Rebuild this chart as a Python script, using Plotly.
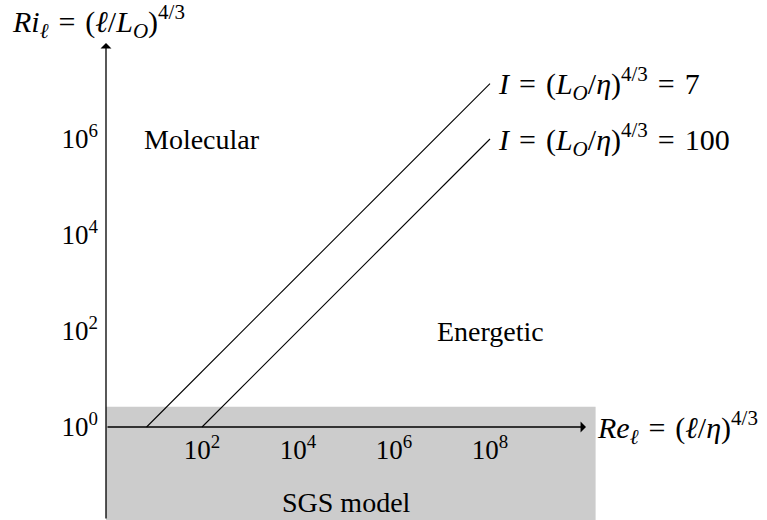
import math
import plotly.graph_objects as go

# Regime diagram: Reynolds number vs Richardson number (log-log)
intensity = [7, 100]                 # I = (L_O/eta)^(4/3) for each boundary line
re_line_end = 1e8                    # Re_l where the boundary lines stop
re_axis_max = 1e10                   # tip of the Re arrow
ri_axis_max = 1e8                    # tip of the Ri arrow
ri_axis_min = 10 ** -1.94            # bottom of the Ri axis
sgs_re = [1, 10 ** 10.2]             # SGS-model band, Re extent
sgs_ri = [10 ** -2.2, 10 ** 0.42]    # SGS-model band, Ri extent
x_ticks = [1e2, 1e4, 1e6, 1e8]
x_tick_text = ["10<sup>2</sup>", "10<sup>4</sup>", "10<sup>6</sup>", "10<sup>8</sup>"]
y_ticks = [1e0, 1e2, 1e4, 1e6]
y_tick_text = ["10<sup>0</sup>", "10<sup>2</sup>", "10<sup>4</sup>", "10<sup>6</sup>"]
regions = ["Molecular", "Energetic", "SGS model"]
region_re = [1e2, 1e8, 1e5]
region_ri = [1e6, 1e2, 10 ** -1.58]

FONT = "Liberation Serif"
FS = 28          # plain text
FS_MATH = 30     # formulas
FS_TICK = 27
W, H = 767, 520
PX_PER_DEC = 48.0
X0_PX, Y0_PX = 106.0, 427.0
EQ = "\u2004=\u2004"

fig = go.Figure()

# boundary lines Ri = Re / I, starting on the Ri = 1 axis
for I in intensity:
    re = [I, re_line_end]
    ri = [r / I for r in re]
    fig.add_trace(go.Scatter(x=re, y=ri, mode="lines",
                             line=dict(color="black", width=1.1),
                             hoverinfo="skip", showlegend=False))

# grey SGS band
fig.add_shape(type="rect", xref="x", yref="y",
              x0=sgs_re[0], x1=sgs_re[1], y0=sgs_ri[0], y1=sgs_ri[1],
              fillcolor="#cccccc", line=dict(width=0), layer="below")

annotations = []
# axis arrows
annotations.append(dict(x=math.log10(re_axis_max), y=0, ax=0, ay=0,
                        xref="x", yref="y", axref="x", ayref="y", text="",
                        showarrow=True, arrowhead=1, arrowsize=1.4,
                        arrowwidth=1.3, arrowcolor="black", standoff=0))
annotations.append(dict(x=0, y=math.log10(ri_axis_max), ax=0,
                        ay=math.log10(ri_axis_min),
                        xref="x", yref="y", axref="x", ayref="y", text="",
                        showarrow=True, arrowhead=1, arrowsize=1.4,
                        arrowwidth=1.3, arrowcolor="black", standoff=0))

math_font = dict(family=FONT, size=FS_MATH, color="black")

# axis titles
annotations.append(dict(x=math.log10(re_axis_max), y=0, xref="x", yref="y",
                        xanchor="left", yanchor="middle", xshift=9,
                        text=f"<i>Re</i><sub><i>ℓ</i></sub>{EQ}(<i>ℓ</i>/<i>η</i>)<sup>4/3</sup>",
                        font=math_font, showarrow=False))
annotations.append(dict(x=-2.0, y=8.45, xref="x", yref="y",
                        xanchor="left", yanchor="middle",
                        text=f"<i>Ri</i><sub><i>ℓ</i></sub>{EQ}(<i>ℓ</i>/<i>L</i><sub><i>O</i></sub>)<sup>4/3</sup>",
                        font=math_font, showarrow=False))

# boundary line labels
for I in intensity:
    annotations.append(dict(x=math.log10(re_line_end),
                            y=math.log10(re_line_end / I),
                            xref="x", yref="y", xanchor="left", yanchor="middle",
                            xshift=6,
                            text=f"<i>I</i>{EQ}(<i>L</i><sub><i>O</i></sub>/<i>η</i>)<sup>4/3</sup>{EQ}{I}",
                            font=math_font, showarrow=False))

# region names
for name, rx, ry in zip(regions, region_re, region_ri):
    annotations.append(dict(x=math.log10(rx), y=math.log10(ry), xref="x", yref="y",
                            xanchor="center", yanchor="middle", text=name,
                            showarrow=False))

x_range = [-X0_PX / PX_PER_DEC, (W - X0_PX) / PX_PER_DEC]
y_range = [(Y0_PX - H) / PX_PER_DEC, Y0_PX / PX_PER_DEC]

tick_font = dict(family=FONT, size=FS_TICK, color="black")

fig.update_layout(
    width=W, height=H,
    margin=dict(l=0, r=0, t=0, b=0),
    paper_bgcolor="white", plot_bgcolor="white",
    font=dict(family=FONT, size=FS, color="black"),
    annotations=annotations,
    xaxis=dict(type="log", range=x_range, showgrid=False, zeroline=False,
               showline=False, ticks="", tickvals=x_ticks, ticktext=x_tick_text,
               tickfont=tick_font,
               anchor="free", position=(H - Y0_PX) / H, automargin=False,
               ticklabelstandoff=4),
    yaxis=dict(type="log", range=y_range, showgrid=False, zeroline=False,
               showline=False, ticks="", tickvals=y_ticks, ticktext=y_tick_text,
               tickfont=tick_font,
               anchor="free", position=X0_PX / W, automargin=False,
               ticklabelstandoff=8),
)

fig.write_html("out.html")
